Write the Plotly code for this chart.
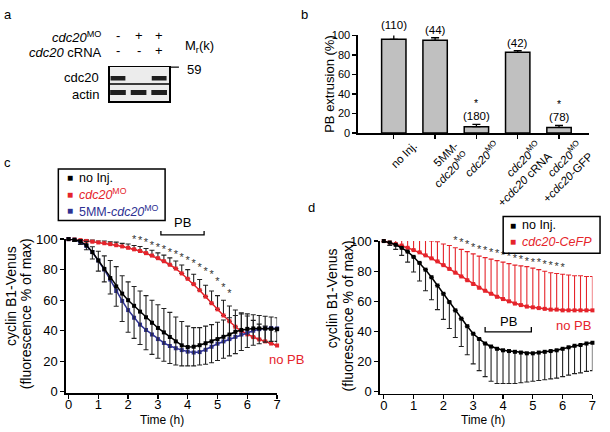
import plotly.graph_objects as go

W, H = 610, 432
FONT = "Arial"
RED = "#e5242b"
BLUE = "#2e3192"
BLACK = "#000000"

# ---------------- panel a (blot) ----------------
lanes = [1, 2, 3]
mo_signs = ["-", "+", "+"]
crna_signs = ["-", "-", "+"]
cdc20_band = [1, 0, 1]
actin_band = [1, 1, 1]

# ---------------- panel b ----------------
b_cats = ["no Inj.", "5MM-<br><i>cdc20</i><sup>MO</sup>", "<i>cdc20</i><sup>MO</sup>",
          "<i>cdc20</i><sup>MO</sup><br>+<i>cdc20</i> cRNA", "<i>cdc20</i><sup>MO</sup><br>+<i>cdc20</i>-GFP"]
b_vals = [96, 95, 6.6, 82.7, 5.8]
b_err = [6, 2.6, 2.4, 1.7, 2.2]
b_n = ["(110)", "(44)", "(180)", "(42)", "(78)"]
b_sig = [False, False, True, False, True]

# ---------------- panel c ----------------
t = [0.0, 0.2, 0.4, 0.6, 0.8, 1.0, 1.2, 1.4, 1.6, 1.8, 2.0, 2.2, 2.4, 2.6, 2.8, 3.0, 3.2, 3.4,
     3.6, 3.8, 4.0, 4.2, 4.4, 4.6, 4.8, 5.0, 5.2, 5.4, 5.6, 5.8, 6.0, 6.2, 6.4, 6.6, 6.8, 7.0]
c_black = [100, 99.6, 98.5, 96, 91.5, 86, 80.5, 74.5, 69, 64.3, 60, 56.3, 52.5, 48.8, 45.2, 41.8, 38.9, 35.9,
           33, 30.4, 29.3, 29.5, 30.5, 31.8, 33, 34.5, 36, 37.5, 39.3, 40.5, 41.2, 41.5, 41.5, 41.5, 41.3, 41]
c_black_top = [100, 100.5, 100, 98.5, 95, 92, 89, 86, 82, 76, 72, 69, 66, 63, 60, 57, 54.5, 52,
               49, 46, 43, 42, 42, 43, 44, 45.5, 47, 48.5, 50, 51, 51, 50.5, 50, 49.5, 49, 48.5]
c_black_bot = [100, 98.5, 96.5, 93, 87, 79, 72, 64, 56, 46, 39, 35, 31, 27.5, 24.5, 22, 20, 18.5,
               17.5, 17, 17, 17, 17.5, 18, 19, 20.5, 22, 23.5, 25, 27, 29, 30.5, 31.5, 32.5, 33, 33]
c_red = [100, 99.7, 99.3, 98.8, 98.3, 97.8, 97.3, 96.7, 96, 95.2, 94.3, 93.3, 92.2, 90.8, 89.2, 87.5, 85.5, 83.2,
         80.7, 77.5, 74, 70.5, 66.5, 62.3, 58, 54, 50, 46.2, 42.6, 39.8, 37.6, 35.8, 34.3, 33, 31.6, 30.3]
c_red_err = [0, 0.5, 0.7, 0.8, 1, 1, 1.5, 1.5, 2, 2, 2.5, 2.5, 3, 3, 3.5, 3.5, 4, 4.5,
             5, 5.5, 6, 6.5, 7, 7.5, 8, 9, 10, 10, 11, 12, 12, 11, 10, 10, 9, 9]
c_blue = [100, 99.5, 98, 95.5, 91.5, 86, 80, 73.5, 66, 59.5, 53.5, 48.5, 44, 40.5, 37.5, 34.5, 32, 30,
          28.5, 27.3, 26.3, 25.7, 26, 27.5, 29.5, 31.5, 33, 34.5, 36, 37.5, 38.8, 40, 41, 41.5, 41.8, 41.5]
c_star_t = [1.0, 1.2, 1.4, 1.6, 1.8, 2.0, 2.2, 2.4, 2.6, 2.8, 3.0, 3.2, 3.4, 3.6, 3.8, 4.0, 4.2, 4.4,
            4.6, 4.8, 5.0, 5.2, 5.4]
c_star_y = [103, 102.8, 102.5, 102, 101.5, 100.5, 99.5, 98.5, 97, 95.5, 94, 92.5, 91, 89.5, 87.5, 85.5, 83.5, 81,
            78.5, 76, 72, 68, 64]
c_pb = [3.1, 4.55]

# ---------------- panel d ----------------
d_black = [100, 99, 97.5, 95.5, 93, 89.5, 85.5, 81, 76, 70.5, 65, 59.5, 54, 48.5, 43.5, 38.5, 35, 32,
           30, 28.5, 27.5, 27, 26.5, 26, 25.5, 25.5, 26, 26.5, 27, 27.5, 28.5, 29.5, 30.5, 31, 32, 32.5]
d_black_err = [0, 2, 3, 5, 7, 10, 12, 14, 15, 16, 17, 17.5, 18, 18.5, 19, 20, 21, 22,
               23, 23, 22, 21.5, 21, 20, 19, 18.5, 18.5, 18.5, 18.5, 18.5, 18.5, 18.5, 18.5, 18.5, 18.5, 18.5]
d_red = [100, 99, 98, 97, 95.5, 94, 92.5, 90.5, 88.5, 86.5, 84, 81.5, 79, 76.5, 74, 71.5, 69, 67,
         65, 63, 61.5, 60, 58.5, 57.5, 56.5, 56, 55.5, 55, 54.5, 54.5, 54, 54, 54, 54, 54, 54]
d_red_err = [0, 2, 3, 4, 5.5, 7, 8, 10, 11.5, 13, 14, 15.5, 16.5, 18, 19, 20, 21, 22,
             23, 24, 24.5, 25, 25.5, 26, 26.5, 26, 25.5, 25, 24.5, 24, 24, 23.5, 23, 23, 22.5, 22.5]
d_star_t = [1.4, 1.6, 1.8, 2.0, 2.2, 2.4, 2.6, 2.8, 3.0, 3.2, 3.4, 3.6, 3.8, 4.0, 4.2, 4.4, 4.6, 4.8,
            5.0, 5.2, 5.4, 5.6, 5.8, 6.0]
d_star_y = [104.5, 104, 103, 102, 101, 100, 98.5, 97, 95.5, 94, 93, 92, 91, 90, 89, 88, 87, 86,
            85.5, 85, 84, 83.5, 82.5, 82]
d_pb = [3.4, 4.95]


def px_x(p):
    return p / W


def px_y(p):
    return 1 - p / H


B_Y0, B_Y1 = 130, 29.3  # pixel rows of 0 and 100 in panel b

fig = go.Figure()

# ---- blot ----
for lane, v in zip(lanes, cdc20_band):
    if v:
        fig.add_trace(go.Scatter(x=[lane - 0.36, lane + 0.36], y=[1.35, 1.35], mode="lines",
                                 line=dict(color="#1e1e1e", width=4.5), xaxis="x4", yaxis="y4",
                                 showlegend=False, hoverinfo="skip"))
for lane, v in zip(lanes, actin_band):
    if v:
        fig.add_trace(go.Scatter(x=[lane - 0.38, lane + 0.38], y=[0.5, 0.5], mode="lines",
                                 line=dict(color="#1e1e1e", width=5), xaxis="x4", yaxis="y4",
                                 showlegend=False, hoverinfo="skip"))

# ---- panel b ----
fig.add_trace(go.Bar(x=list(range(len(b_vals))), y=b_vals, width=0.59,
                     marker=dict(color="#c0c0c0", line=dict(color="black", width=1.5)),
                     error_y=dict(type="data", array=b_err, arrayminus=[0] * len(b_err),
                                  color="black", thickness=1.3, width=4),
                     cliponaxis=False, xaxis="x", yaxis="y", showlegend=False, hoverinfo="skip"))

# ---- panel c ----
fig.add_trace(go.Scatter(x=t, y=c_red, mode="lines+markers",
                         line=dict(color=RED, width=1.5), marker=dict(symbol="square", size=4, color=RED),
                         error_y=dict(type="data", array=c_red_err, arrayminus=[0] * len(t),
                                      color="#222", thickness=1.1, width=2.5),
                         cliponaxis=False, xaxis="x2", yaxis="y2", showlegend=False, hoverinfo="skip"))
fig.add_trace(go.Scatter(x=t, y=c_blue, mode="lines+markers",
                         line=dict(color=BLUE, width=1.5), marker=dict(symbol="square", size=4, color=BLUE),
                         cliponaxis=False, xaxis="x2", yaxis="y2", showlegend=False, hoverinfo="skip"))
fig.add_trace(go.Scatter(x=t, y=c_black, mode="lines+markers",
                         line=dict(color=BLACK, width=1.5), marker=dict(symbol="square", size=4, color=BLACK),
                         error_y=dict(type="data",
                                      array=[a - m for a, m in zip(c_black_top, c_black)],
                                      arrayminus=[m - b for m, b in zip(c_black, c_black_bot)],
                                      color="#222", thickness=1.1, width=2.5),
                         cliponaxis=False, xaxis="x2", yaxis="y2", showlegend=False, hoverinfo="skip"))
fig.add_trace(go.Scatter(x=c_star_t, y=c_star_y, mode="text", text=["*"] * len(c_star_t),
                         textfont=dict(size=11, color="#333", family=FONT), textposition="middle center",
                         cliponaxis=False, xaxis="x2", yaxis="y2", showlegend=False, hoverinfo="skip"))

# ---- panel d ----
fig.add_trace(go.Scatter(x=t, y=d_red, mode="lines+markers",
                         line=dict(color=RED, width=1.5), marker=dict(symbol="square", size=4, color=RED),
                         error_y=dict(type="data", array=d_red_err, arrayminus=[0] * len(t),
                                      color=RED, thickness=1.1, width=2.5),
                         cliponaxis=False, xaxis="x3", yaxis="y3", showlegend=False, hoverinfo="skip"))
fig.add_trace(go.Scatter(x=t, y=d_black, mode="lines+markers",
                         line=dict(color=BLACK, width=1.5), marker=dict(symbol="square", size=4, color=BLACK),
                         error_y=dict(type="data", array=[0] * len(t), arrayminus=d_black_err,
                                      color="#222", thickness=1.1, width=2.5),
                         cliponaxis=False, xaxis="x3", yaxis="y3", showlegend=False, hoverinfo="skip"))
fig.add_trace(go.Scatter(x=d_star_t, y=d_star_y, mode="text", text=["*"] * len(d_star_t),
                         textfont=dict(size=11, color="#333", family=FONT), textposition="middle center",
                         cliponaxis=False, xaxis="x3", yaxis="y3", showlegend=False, hoverinfo="skip"))

axis_common = dict(showline=True, linecolor="black", linewidth=1.5, ticks="outside", ticklen=4,
                   tickwidth=1.3, tickcolor="black", showgrid=False, zeroline=False,
                   tickfont=dict(family=FONT, size=13, color="black"))

fig.update_layout(
    width=W, height=H, margin=dict(l=0, r=0, t=0, b=0),
    paper_bgcolor="white", plot_bgcolor="white",
    font=dict(family=FONT, color="black"),
    showlegend=False, hovermode=False,
    xaxis=dict(axis_common, domain=[px_x(361), px_x(595)], range=[-0.87, 4.73], anchor="y",
               tickvals=list(range(len(b_cats))), ticktext=b_cats, tickangle=-45, ticklabelshift=20,
               ticklabelstandoff=-4, tickfont=dict(family=FONT, size=11.5, color="black")),
    yaxis=dict(axis_common, domain=[px_y(B_Y0), px_y(B_Y1)], range=[0, 100], anchor="x",
               dtick=20, tickfont=dict(family=FONT, size=11, color="black")),
    xaxis2=dict(axis_common, domain=[px_x(65.6), px_x(279.3)], range=[-0.09, 7.0], anchor="y2", dtick=1,
                ticklabelstandoff=-5),
    yaxis2=dict(axis_common, domain=[px_y(398.3), px_y(239.3)], range=[-1, 100], anchor="x2", dtick=20),
    xaxis3=dict(axis_common, domain=[px_x(383.3), px_x(598.3)], range=[-0.13, 7.0], anchor="y3", dtick=1,
                ticklabelstandoff=-5),
    yaxis3=dict(axis_common, domain=[px_y(399), px_y(241.3)], range=[-1.5, 100], anchor="x3", dtick=20),
    xaxis4=dict(domain=[px_x(110), px_x(170)], range=[0.6, 3.48], anchor="y4", showline=True, mirror=True,
                linecolor="black", linewidth=1.5, showticklabels=False, ticks="", showgrid=False, zeroline=False),
    yaxis4=dict(domain=[px_y(97), px_y(62)], range=[0, 2], anchor="x4", showline=True, mirror=True,
                linecolor="black", linewidth=1.5, showticklabels=False, ticks="", showgrid=False, zeroline=False),
)

ann = []


def A(x, y, text, size=12, color="black", xanchor="center", yanchor="middle", xref="paper", yref="paper",
      textangle=0, **kw):
    ann.append(dict(x=x, y=y, text=text, xref=xref, yref=yref, showarrow=False, xanchor=xanchor,
                    yanchor=yanchor, textangle=textangle,
                    font=dict(family=FONT, size=size, color=color), **kw))


# panel letters
A(px_x(1), px_y(8), "a", 13, xanchor="left")
A(px_x(301), px_y(8), "b", 13, xanchor="left")
A(px_x(1), px_y(160), "c", 13, xanchor="left")
A(px_x(309), px_y(207), "d", 13, xanchor="left")

# panel a labels
A(px_x(103), px_y(31), "<i>cdc20</i><sup>MO</sup>", 13, xanchor="right")
A(px_x(104), px_y(47), "<i>cdc20</i> cRNA", 13, xanchor="right")
for lane, s1, s2 in zip(lanes, mo_signs, crna_signs):
    A(lane, px_y(29), s1, 13, xref="x4")
    A(lane, px_y(45), s2, 13, xref="x4")
A(px_x(101), px_y(73), "cdc20", 13, xanchor="right")
A(px_x(101), px_y(90), "actin", 13, xanchor="right")
A(px_x(184), px_y(41), "M<sub>r</sub>(k)", 13, xanchor="left")
A(px_x(186), px_y(64), "59", 13, xanchor="left")

# panel b labels (placed in paper space from the bar values)
for i, (v, e, n, s) in enumerate(zip(b_vals, b_err, b_n, b_sig)):
    ytop = px_y(B_Y0 - (v + e) / 100 * (B_Y0 - B_Y1))
    A(i, ytop, n, 11.5, xref="x", yanchor="bottom", yshift=0)
    if s:
        A(i, ytop, "*", 10.5, xref="x", yanchor="bottom", yshift=13)
A(px_x(332), px_y(79), "PB extrusion (%)", 13, textangle=-90)

# panel c labels
A(px_x(10), px_y(298), "cyclin B1-Venus", 14, textangle=-90)
A(px_x(26), px_y(316), "(fluorescence % of max)", 14, textangle=-90)
A(px_x(163), px_y(425.5), "Time (h)", 12)
A(sum(c_pb) / 2, px_y(222), "PB", 13, xref="x2")
A(px_x(289), px_y(363), "no PB", 13, color=RED)

# panel d labels
A(px_x(335), px_y(300), "cyclin B1-Venus", 14, textangle=-90)
A(px_x(351), px_y(318), "(fluorescence % of max)", 14, textangle=-90)
A(px_x(488), px_y(425.5), "Time (h)", 12)
A(sum(d_pb) / 2, px_y(324), "PB", 13, xref="x3")
A(px_x(579), px_y(328), "no PB", 13, color=RED)

# legends (manual)
leg_c = [("no Inj.", BLACK), ("<i>cdc20</i><sup>MO</sup>", RED), ("5MM-<i>cdc20</i><sup>MO</sup>", BLUE)]
for k, (lab, col) in enumerate(leg_c):
    yy = 176 + k * 17
    A(px_x(70), px_y(yy), "■", 10, color=col)
    A(px_x(77), px_y(yy), lab, 12.5, color=col, xanchor="left")
leg_d = [("no Inj.", BLACK), ("<i>cdc20-CeFP</i>", RED)]
for k, (lab, col) in enumerate(leg_d):
    yy = 225 + k * 17
    A(px_x(518), px_y(yy), "■", 10, color=col)
    A(px_x(525), px_y(yy), lab, 12.5, color=col, xanchor="left")

fig.update_layout(annotations=ann)

shapes = [
    # blot background & divider
    dict(type="rect", xref="x4 domain", yref="y4 domain", x0=0, x1=1, y0=0, y1=1,
         fillcolor="#ececec", line=dict(width=0), layer="below"),
    dict(type="line", xref="x4 domain", yref="y4", x0=0, x1=1, y0=1, y1=1, line=dict(color="black", width=1.5)),
    dict(type="line", xref="paper", yref="paper", x0=px_x(170), x1=px_x(180), y0=px_y(62), y1=px_y(62),
         line=dict(color="black", width=1.2)),
    # legend boxes
    dict(type="rect", xref="paper", yref="paper", x0=px_x(58), x1=px_x(166), y0=px_y(220), y1=px_y(167),
         line=dict(color="black", width=1.5)),
    dict(type="rect", xref="paper", yref="paper", x0=px_x(508), x1=px_x(606), y0=px_y(254), y1=px_y(216),
         line=dict(color="black", width=1.5)),
    # PB brackets
    dict(type="path", xref="x2", yref="paper",
         path=f"M {c_pb[0]},{px_y(231)} L {c_pb[0]},{px_y(235)} L {c_pb[1]},{px_y(235)} L {c_pb[1]},{px_y(231)}",
         line=dict(color="black", width=1.3)),
    dict(type="path", xref="x3", yref="paper",
         path=f"M {d_pb[0]},{px_y(330)} L {d_pb[0]},{px_y(335)} L {d_pb[1]},{px_y(335)} L {d_pb[1]},{px_y(330)}",
         line=dict(color="black", width=1.3)),
]
fig.update_layout(shapes=shapes)

fig.write_html(
    "out.html",
    config={"displayModeBar": False, "staticPlot": True},
    post_script="document.body.style.margin='0';document.documentElement.style.overflow='hidden';"
                "document.body.style.overflow='hidden';",
)
